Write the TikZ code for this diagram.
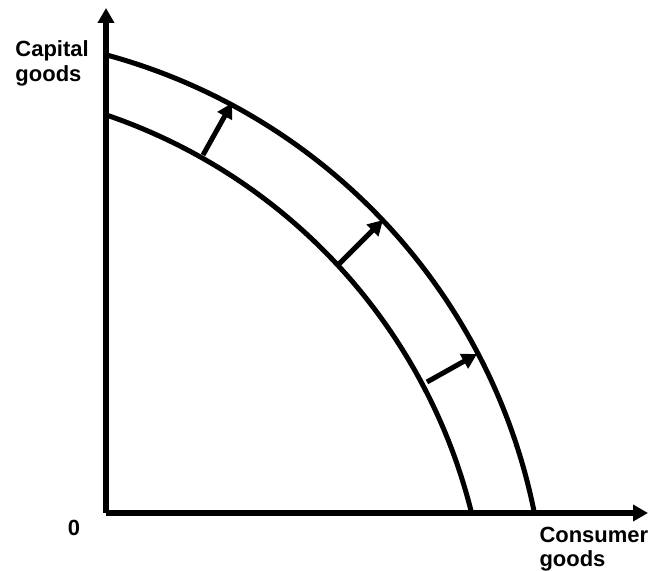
\documentclass[tikz,border=0pt]{standalone}
\usepackage{fontspec}
\setmainfont{Liberation Sans}
\usetikzlibrary{arrows.meta}

\begin{document}
\begin{tikzpicture}[x=0.2mm, y=0.2mm, line width=1mm,
  >={Triangle[length=3mm, width=3.2mm]},
  lbl/.style={font=\bfseries\fontsize{12.5}{13.5}\selectfont, inner sep=0pt, align=left}]

\useasboundingbox (-106,-58) rectangle (543,513);

% Origin and axis ends
\coordinate (O) at (0,0);
\coordinate (ytop) at (0,505);
\coordinate (xend) at (542,0);

% Centres and radii of the two frontiers
\coordinate (Ci) at (-181,-135);
\coordinate (Co) at (-156,-117);
\def\ri{563}
\def\ro{596}

% Axes
\draw[->, line width=1.2mm] (O) -- (ytop);
\draw[->, line width=1.2mm] (O) -- (xend);

% Frontiers
\draw (Ci) ++(71.1:\ri) arc[start angle=71.1, end angle=13.9, radius=\ri];
\draw (Co) ++(74.7:\ro) arc[start angle=74.7, end angle=11.3, radius=\ro];

% Shift arrows
\coordinate (a1) at (97,358);
\coordinate (b1) at (126,410);
\coordinate (a2) at (232,248);
\coordinate (b2) at (277,293);
\coordinate (a3) at (321,131);
\coordinate (b3) at (371,159);
\foreach \i in {1,2,3}
  \draw[->] (a\i) -- (b\i);

% Labels
\node[lbl, anchor=north west, font=\bfseries\fontsize{12.5}{14.5}\selectfont] (capital) at (-93,475) {Capital\\goods};
\node[lbl, anchor=north west] (consumer) at (431,-12) {Consumer\\goods};
\node[lbl] (zero) at (-32,-15) {0};

\end{tikzpicture}
\end{document}
